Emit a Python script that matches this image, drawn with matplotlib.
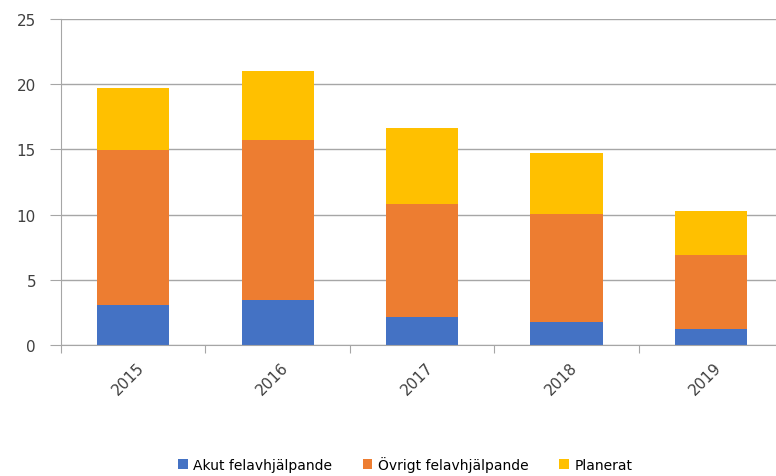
import numpy as np
import matplotlib.pyplot as plt

years = ['2015', '2016', '2017', '2018', '2019']
akut = [3.05, 3.44, 2.13, 1.74, 1.2]
ovrigt = [11.92, 12.3, 8.69, 8.29, 5.72]
planerat = [4.77, 5.31, 5.82, 4.66, 3.36]

labels = ['Akut felavhjälpande', 'Övrigt felavhjälpande', 'Planerat']
colors = ['#4472C4', '#ED7D31', '#FFC000']

fig = plt.figure(figsize=(7.76, 4.77), dpi=100)
ax = fig.add_axes([61/776, 131/477, 722/776, 326/477])

x = np.arange(len(years))
bottom = np.zeros(len(years))
for vals, lab, col in zip([akut, ovrigt, planerat], labels, colors):
    ax.bar(x, vals, 0.5, bottom=bottom, color=col, label=lab, zorder=3)
    bottom += np.array(vals)

ax.set_xlim(-0.5, len(years) - 0.5)
ax.set_ylim(0, 25)
ax.set_yticks(range(0, 26, 5))
ax.grid(axis='y', color='#a6a6a6', linewidth=1, zorder=0)

for s in ['top', 'right']:
    ax.spines[s].set_visible(False)
for s in ['left', 'bottom']:
    ax.spines[s].set_color('#a6a6a6')
    ax.spines[s].set_zorder(4)

# category boundary ticks, Excel style
ax.set_xticks(np.arange(-0.5, len(years) - 0.5 + 0.01, 1.0))
ax.set_xticklabels([])
ax.set_xticks(x + 0.06, minor=True)
ax.set_xticklabels(years, minor=True, rotation=45, ha='right', va='center',
                   rotation_mode='anchor', fontsize=11, color='#404040')
ax.tick_params(axis='x', which='major', length=6, color='#a6a6a6')
ax.tick_params(axis='x', which='minor', length=0, pad=14)
ax.tick_params(axis='y', length=8, color='#a6a6a6', labelsize=11,
               labelcolor='#404040', pad=10)

fig.legend(loc='center', bbox_to_anchor=(0.522, 0.025), ncol=3, frameon=False,
           fontsize=10, handlelength=0.7, handleheight=0.7, columnspacing=2.2,
           handletextpad=0.4)

fig.savefig('out.png', dpi=100)
